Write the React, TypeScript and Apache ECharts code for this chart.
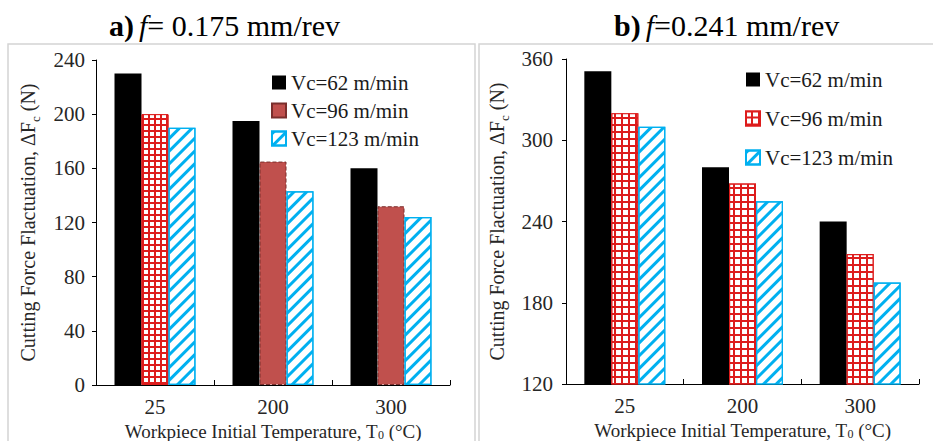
import React, { useEffect, useRef } from "react";
import * as echarts from "echarts";

const categories = ["25", "200", "300"];
const leftVc62 = [230, 195, 160];
const leftVc96 = [200, 165, 132];
const leftVc123 = [190, 143, 124];
const rightVc62 = [351, 280, 240];
const rightVc96 = [320, 268, 216];
const rightVc123 = [310, 255, 195];
const legendLabels: Record<string, string> = {
  L62: "Vc=62 m/min",
  L96: "Vc=96 m/min",
  L123: "Vc=123 m/min",
  R62: "Vc=62 m/min",
  R96: "Vc=96 m/min",
  R123: "Vc=123 m/min",
};

const AXIS_FONT = "Liberation Serif";
const TITLE_FONT = "Liberation Serif";
const RED = "#dd1c1c";
const BROWN = "#c0504d";
const BLUE = "#00b0f0";
const TEXT = "#262626";

const stripeDecal = {
  symbol: "rect",
  symbolSize: 1,
  color: BLUE,
  dashArrayX: [1, 0],
  dashArrayY: [2.2, 5.5],
  rotation: -Math.PI / 4,
};
const gridDecalSmall = {
  symbol: "rect",
  symbolSize: 1,
  color: "#ffffff",
  dashArrayX: [3.2, 1.3],
  dashArrayY: [3.2, 1.3],
  rotation: 0,
};
const gridDecalLarge = {
  symbol: "rect",
  symbolSize: 1,
  color: "#ffffff",
  dashArrayX: [4.8, 1.6],
  dashArrayY: [4.8, 1.6],
  rotation: 0,
};

const titleRich = {
  b: { fontFamily: TITLE_FONT, fontWeight: "bold", fontSize: 30, color: "#000" },
  i: { fontFamily: TITLE_FONT, fontStyle: "italic", fontWeight: "normal", fontSize: 30, color: "#000" },
  r: { fontFamily: TITLE_FONT, fontWeight: "normal", fontSize: 30, color: "#000" },
};

const nameRich = {
  t: { fontFamily: AXIS_FONT, fontSize: 20, color: TEXT },
  s: { fontFamily: AXIS_FONT, fontSize: 13, color: TEXT, verticalAlign: "bottom", padding: [0, 0, -4, 0] },
};
const xNameRich = {
  t: { fontFamily: AXIS_FONT, fontSize: 19, color: TEXT },
  s: { fontFamily: AXIS_FONT, fontSize: 12, color: TEXT, verticalAlign: "bottom" },
};

function makeXAxis(gridIndex: number) {
  return {
    type: "category",
    gridIndex,
    data: categories,
    axisLine: { lineStyle: { color: "#000", width: 1 } },
    axisTick: { show: true, inside: true, length: 5, lineStyle: { color: "#000" } },
    axisLabel: { fontFamily: AXIS_FONT, fontSize: 21, color: TEXT, margin: 11 },
    name: "{t|Workpiece Initial Temperature, T}{s|0}{t| (°C)}",
    nameLocation: "middle",
    nameGap: 27,
    nameTextStyle: { fontFamily: AXIS_FONT, fontSize: 19, color: TEXT, rich: xNameRich },
    splitLine: { show: false },
  };
}

function makeYAxis(gridIndex: number, min: number, max: number, interval: number, margin: number, nameGap: number) {
  return {
    type: "value",
    gridIndex,
    min,
    max,
    interval,
    axisLine: { show: true, lineStyle: { color: "#000", width: 1 } },
    axisTick: { show: true, length: 4, lineStyle: { color: "#000" } },
    axisLabel: { fontFamily: AXIS_FONT, fontSize: 21, color: TEXT, margin },
    splitLine: { show: false },
    name: "{t|Cutting Force Flactuation, ΔF}{s|c}{t| (N)}",
    nameLocation: "middle",
    nameGap,
    nameTextStyle: { fontFamily: AXIS_FONT, fontSize: 20, color: TEXT, rich: nameRich },
  };
}

export default function App() {
  const ref = useRef<HTMLDivElement>(null);
  useEffect(() => {
    if (!ref.current) return;
    const chart = echarts.init(ref.current, null, { renderer: "svg" });
    const barBase = { type: "bar", barWidth: 27, barGap: "0%" };
    const legendText = { fontFamily: AXIS_FONT, fontSize: 21, color: "#1a1a1a" };
    const option: any = {
      animation: false,
      backgroundColor: "#ffffff",
      title: [
        { text: "{b|a)} {i|f}{r|= 0.175 mm/rev}", left: 104, top: 5, textStyle: { rich: titleRich } },
        { text: "{b|b)} {i|f}{r|=0.241 mm/rev}", left: 609, top: 5, textStyle: { rich: titleRich } },
      ],
      graphic: [
        { type: "rect", shape: { x: 8, y: 44, width: 467, height: 402 }, style: { fill: "none", stroke: "#d4d4d4", lineWidth: 1.5 }, silent: true },
        { type: "rect", shape: { x: 479, y: 44, width: 462, height: 402 }, style: { fill: "none", stroke: "#d4d4d4", lineWidth: 1.5 }, silent: true },
      ],
      grid: [
        { left: 96, top: 60, width: 354, height: 325, outerBoundsMode: "none", containLabel: false },
        { left: 566, top: 59, width: 353, height: 325, outerBoundsMode: "none", containLabel: false },
      ],
      legend: [
        {
          data: ["L62", "L96", "L123"],
          formatter: (n: string) => legendLabels[n],
          orient: "vertical",
          left: 266,
          top: 67,
          itemWidth: 14,
          itemHeight: 14,
          itemGap: 7,
          icon: "rect",
          textStyle: legendText,
        },
        {
          data: ["R62", "R96", "R123"],
          formatter: (n: string) => legendLabels[n],
          orient: "vertical",
          left: 740,
          top: 64,
          itemWidth: 14,
          itemHeight: 14,
          itemGap: 18,
          icon: "rect",
          textStyle: legendText,
        },
      ],
      xAxis: [makeXAxis(0), makeXAxis(1)],
      yAxis: [makeYAxis(0, 0, 240, 40, 11, 58), makeYAxis(1, 120, 360, 60, 13, 59)],
      series: [
        { ...barBase, name: "L62", xAxisIndex: 0, yAxisIndex: 0, data: leftVc62, itemStyle: { color: "#000" } },
        {
          ...barBase,
          name: "L96",
          xAxisIndex: 0,
          yAxisIndex: 0,
          itemStyle: { color: BROWN, borderColor: "#7a2e2c", borderWidth: 1, borderType: "dashed" },
          data: leftVc96.map((v, i) =>
            i === 0
              ? { value: v, itemStyle: { color: RED, borderColor: RED, borderWidth: 1, borderType: "solid", decal: gridDecalSmall } }
              : { value: v }
          ),
        },
        {
          ...barBase,
          name: "L123",
          xAxisIndex: 0,
          yAxisIndex: 0,
          data: leftVc123,
          itemStyle: { color: "#fff", borderColor: BLUE, borderWidth: 1.2, decal: stripeDecal },
        },
        { ...barBase, name: "R62", xAxisIndex: 1, yAxisIndex: 1, data: rightVc62, itemStyle: { color: "#000" } },
        {
          ...barBase,
          name: "R96",
          xAxisIndex: 1,
          yAxisIndex: 1,
          data: rightVc96,
          itemStyle: { color: RED, borderColor: RED, borderWidth: 1.2, decal: gridDecalLarge },
        },
        {
          ...barBase,
          name: "R123",
          xAxisIndex: 1,
          yAxisIndex: 1,
          data: rightVc123,
          itemStyle: { color: "#fff", borderColor: BLUE, borderWidth: 1.2, decal: stripeDecal },
        },
      ],
    };
    chart.setOption(option);
    return () => chart.dispose();
  }, []);
  return <div ref={ref} style={{ position: "absolute", left: 0, top: 0, width: 933, height: 441 }} />;
}
